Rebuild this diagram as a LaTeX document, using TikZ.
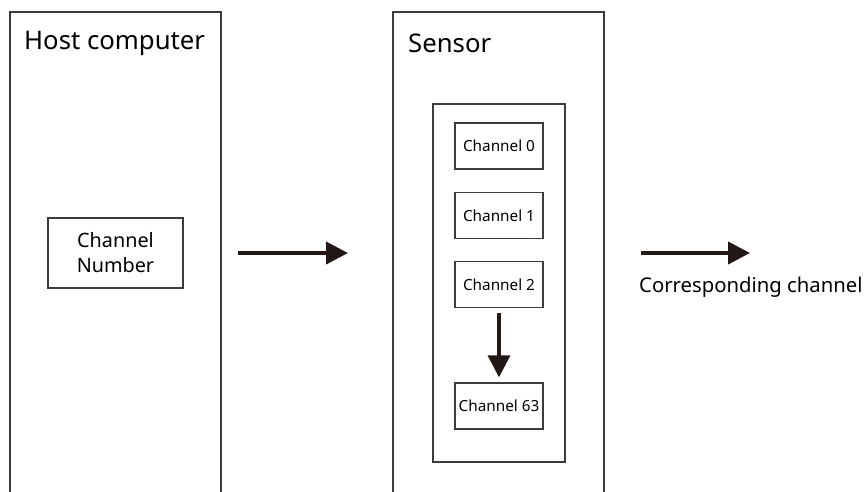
\documentclass[tikz,border=0pt]{standalone}
\usepackage{fontspec}
\setmainfont{Noto Sans}
\usetikzlibrary{arrows.meta}
\definecolor{frame}{HTML}{3E3A39}
\definecolor{ink}{HTML}{231815}
\tikzset{
  frameline/.style={draw=frame, line width=1.5pt},
  chbox/.style={draw=frame, line width=1.3pt, minimum width=88pt, minimum height=46pt, inner sep=0pt, font=\fontsize{15.3}{18}\selectfont},
  bigarrow/.style={draw=ink, line width=4pt, -{Triangle[length=22pt,width=22pt]}},
  title/.style={anchor=west, inner sep=0pt, font=\fontsize{25.7}{30}\selectfont},
}
\begin{document}
\begin{tikzpicture}[x=1pt,y=-1pt]
\useasboundingbox (0,0) rectangle (867,491);
% outer frames (open at the bottom)
\draw[frameline] (10,492) -- (10,12) -- (221,12) -- (221,492);
\draw[frameline] (393,492) -- (393,12) -- (604,12) -- (604,492);
\node[title] (host) at (24,43) {Host computer};
\node[title] (sensor) at (408,43) {Sensor};
% host content
\node[draw=frame, line width=1.3pt, minimum width=135pt, minimum height=70pt, align=center, inner sep=0pt,
      font=\fontsize{19.8}{25}\selectfont] (chnum) at (115.5,253) {Channel\\Number};
% inner box
\node[draw=frame, line width=1.3pt, minimum width=132pt, minimum height=358pt, inner sep=0pt] (inner) at (499,283) {};
\node[chbox] (c0) at (499,146) {Channel 0};
\node[chbox] (c1) at (499,215.5) {Channel 1};
\node[chbox] (c2) at (499,284.5) {Channel 2};
\node[chbox] (c63) at (499,406) {Channel 63};
\draw[bigarrow, line width=3.5pt, shorten <=5pt, shorten >=5pt] (c2.south) -- (c63.north);
% arrows
\coordinate (a1s) at (238,253);
\coordinate (a1e) at (348,253);
\draw[bigarrow] (a1s) -- (a1e);
\coordinate (a3s) at (641,253);
\coordinate (a3e) at (750,253);
\draw[bigarrow] (a3s) -- (a3e);
\node[anchor=west, inner sep=0pt, font=\fontsize{20.3}{24}\selectfont] (corr) at (639,287) {Corresponding channel};
\end{tikzpicture}
\end{document}
